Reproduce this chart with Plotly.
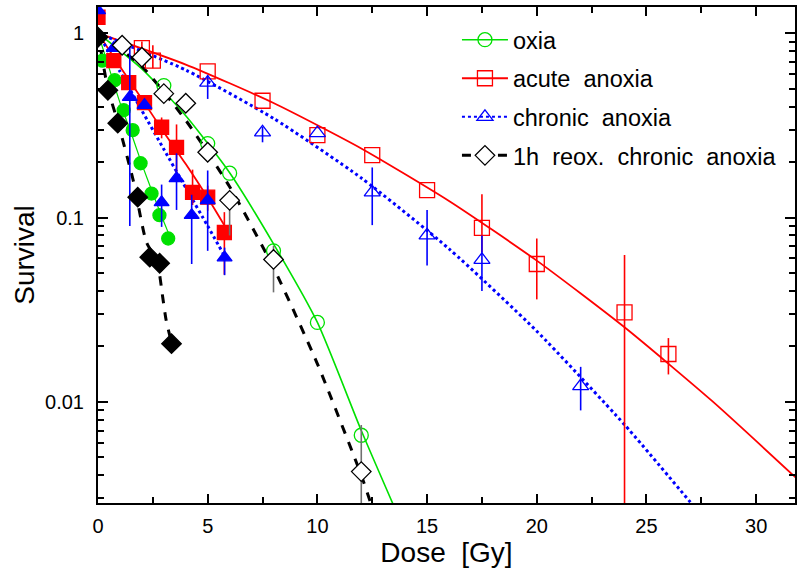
import plotly.graph_objects as go

# ---------------- data ----------------
# oxia (open circles) and its fit curve
oxia_dose = [3.0, 5.0, 6.0, 8.0, 10.0, 12.0]
oxia_surv = [0.52, 0.252, 0.174, 0.066, 0.027, 0.0066]
oxia_fit_dose = [0, 2, 4, 6, 8, 10, 12, 13.5]
oxia_fit_surv = [1.0, 0.64, 0.357, 0.175, 0.072, 0.027, 0.0070, 0.0027]

# acute anoxia (open squares) and its fit curve
acute_dose = [2.0, 2.5, 5.0, 7.5, 10.0, 12.5, 15.0, 17.5, 20.0, 24.0, 26.0]
acute_surv = [0.83, 0.71, 0.62, 0.43, 0.28, 0.218, 0.141, 0.088, 0.056, 0.0306, 0.0182]
acute_err_hi = [0.07, 0.15, 0, 0, 0, 0, 0, 0.046, 0.021, 0.032, 0.004]
acute_err_lo = [0.06, 0.065, 0, 0, 0, 0, 0, 0.023, 0.020, 0.0305, 0.0041]
acute_fit_dose = [0, 4, 8, 12, 16, 20, 24, 28, 32]
acute_fit_surv = [1.0, 0.676, 0.418, 0.237, 0.123, 0.0584, 0.0254, 0.0101, 0.0037]

# chronic anoxia (open triangles) and its fit curve
chronic_dose = [5.0, 7.5, 10.0, 12.5, 15.0, 17.5, 22.0]
chronic_surv = [0.54, 0.29, 0.287, 0.137, 0.080, 0.059, 0.0122]
chronic_err_hi = [0.05, 0.02, 0, 0.05, 0.03, 0.021, 0.0033]
chronic_err_lo = [0.10, 0.034, 0, 0.046, 0.025, 0.019, 0.0032]
chronic_fit_dose = [0, 4, 8, 12, 16, 20, 24, 27]
chronic_fit_surv = [1.0, 0.631, 0.345, 0.164, 0.0677, 0.0242, 0.00753, 0.00286]

# 1h reox. chronic anoxia (open diamonds) and its fit curve
reox_dose = [1.1, 2.0, 3.0, 4.0, 5.0, 6.0, 8.0, 12.0]
reox_surv = [0.86, 0.74, 0.47, 0.417, 0.226, 0.124, 0.0593, 0.00419]
reox_err_hi = [0, 0, 0, 0, 0, 0.006, 0.011, 0.0033]
reox_err_lo = [0, 0, 0, 0, 0, 0.044, 0.020, 0.0041]
reox_fit_dose = [0, 2, 4, 6, 8, 10, 12, 12.4]
reox_fit_surv = [1.0, 0.66, 0.337, 0.147, 0.0535, 0.0161, 0.0040, 0.0029]

# filled-symbol data sets (no legend entry)
oxia2_dose = [0.2, 0.76, 1.17, 1.58, 1.94, 2.44, 2.8, 3.2]
oxia2_surv = [0.71, 0.556, 0.382, 0.298, 0.197, 0.135, 0.103, 0.077]
oxia2_fit_dose = [0, 0.5, 1.0, 1.5, 2.0, 2.5, 3.0, 3.35]
oxia2_fit_surv = [1.0, 0.65, 0.42, 0.29, 0.195, 0.135, 0.095, 0.075]

acute2_dose = [0, 0.72, 1.4, 2.12, 2.9, 3.58, 4.31, 5.0, 5.76]
acute2_surv = [1.22, 0.71, 0.54, 0.42, 0.309, 0.24, 0.137, 0.129, 0.083]
acute2_err_hi = [0, 0, 0, 0, 0.04, 0.08, 0.045, 0.02, 0.024]
acute2_err_lo = [0, 0, 0, 0, 0.04, 0.08, 0.02, 0.02, 0.034]
acute2_fit_dose = [0, 1, 2, 3, 4, 5, 5.8]
acute2_fit_surv = [1.0, 0.66, 0.44, 0.29, 0.195, 0.128, 0.089]

chronic2_dose = [0, 0.72, 1.45, 2.12, 2.9, 3.58, 4.27, 5.0, 5.77]
chronic2_surv = [1.33, 0.83, 0.45, 0.407, 0.121, 0.163, 0.103, 0.124, 0.0607]
chronic2_err_hi = [0, 0, 0.43, 0, 0.03, 0.06, 0.03, 0.056, 0.008]
chronic2_err_lo = [0, 0, 0.36, 0, 0.032, 0.053, 0.047, 0.058, 0.012]
chronic2_fit_dose = [0, 1, 2, 3, 4, 5, 5.7]
chronic2_fit_surv = [1.0, 0.62, 0.38, 0.235, 0.145, 0.09, 0.064]

reox2_dose = [0, 0.45, 0.9, 1.81, 2.36, 2.81, 3.35]
reox2_surv = [0.95, 0.49, 0.325, 0.129, 0.061, 0.0565, 0.0207]
reox2_fit_dose = [0, 0.45, 0.9, 1.6, 2.2, 2.7, 2.95, 3.1, 3.35]
reox2_fit_surv = [1.0, 0.50, 0.33, 0.16, 0.074, 0.057, 0.037, 0.028, 0.021]

legend_names = ["oxia", "acute\u00a0\u00a0anoxia", "chronic\u00a0\u00a0anoxia",
                "1h\u00a0\u00a0reox.\u00a0\u00a0chronic\u00a0\u00a0anoxia"]

GREEN = "#00e000"
RED = "#ff0000"
BLUE = "#0000ff"
BLACK = "#000000"
GRAY = "#707070"
FONT = "Liberation Sans"

fig = go.Figure()


def line(x, y, color, width, dash="solid"):
    fig.add_trace(go.Scatter(x=x, y=y, mode="lines", showlegend=False,
                             line=dict(color=color, width=width, dash=dash, shape="spline", smoothing=0.6),
                             hoverinfo="skip"))


def pts(x, y, symbol, size, color, fill, ecolor=None, hi=None, lo=None, lw=1.3):
    err = None
    if hi is not None:
        err = dict(type="data", symmetric=False, array=hi, arrayminus=lo,
                   color=ecolor or color, thickness=1.6, width=0)
    fig.add_trace(go.Scatter(x=x, y=y, mode="markers", showlegend=False,
                             marker=dict(symbol=symbol, size=size, color=fill,
                                         line=dict(color=color, width=lw)),
                             error_y=err))


# fit lines
line(oxia_fit_dose, oxia_fit_surv, GREEN, 1.6)
line(acute_fit_dose, acute_fit_surv, RED, 1.8)
line(chronic_fit_dose, chronic_fit_surv, BLUE, 3, "dot")
line(reox_fit_dose, reox_fit_surv, BLACK, 3, "dash")
line(oxia2_fit_dose, oxia2_fit_surv, GREEN, 1.2)
line(acute2_fit_dose, acute2_fit_surv, RED, 1.8)
line(chronic2_fit_dose, chronic2_fit_surv, BLUE, 3, "dot")
line(reox2_fit_dose, reox2_fit_surv, BLACK, 3, "dash")

# filled data sets
pts(oxia2_dose, oxia2_surv, "circle", 13, GREEN, GREEN)
pts(acute2_dose, acute2_surv, "square", 14, RED, RED, hi=acute2_err_hi, lo=acute2_err_lo)
pts(chronic2_dose, chronic2_surv, "triangle-up", 13, BLUE, BLUE, hi=chronic2_err_hi, lo=chronic2_err_lo)
pts(reox2_dose, reox2_surv, "diamond", 15, BLACK, BLACK)

# open data sets
pts(oxia_dose, oxia_surv, "circle", 14, GREEN, "rgba(0,0,0,0)")
pts(acute_dose, acute_surv, "square", 15, RED, "rgba(0,0,0,0)", hi=acute_err_hi, lo=acute_err_lo)
pts(chronic_dose, chronic_surv, "triangle-up", 14, BLUE, "rgba(0,0,0,0)", hi=chronic_err_hi, lo=chronic_err_lo)
pts(reox_dose, reox_surv, "diamond", 15, BLACK, "white", ecolor=GRAY, hi=reox_err_hi, lo=reox_err_lo)

# legend entries
leg_styles = [
    (GREEN, "solid", 1.6, "circle", 14, "rgba(0,0,0,0)"),
    (RED, "solid", 1.8, "square", 15, "rgba(0,0,0,0)"),
    (BLUE, "dot", 2, "triangle-up", 14, "rgba(0,0,0,0)"),
    (BLACK, "dash", 3, "diamond", 15, "white"),
]
for i, (name, st) in enumerate(zip(legend_names, leg_styles)):
    c, d, w, sym, sz, fill = st
    fig.add_trace(go.Scatter(x=[None], y=[None], mode="lines+markers", name=name,
                             legendgroup=str(i),
                             line=dict(color=c, dash=d, width=w),
                             marker=dict(symbol=sym, size=sz, color=fill, line=dict(color=c, width=1.3))))

axis_common = dict(showline=True, linecolor="black", linewidth=2, mirror="allticks",
                   ticks="inside", tickcolor="black", tickwidth=2, showgrid=False, zeroline=False,
                   tickfont=dict(family=FONT, size=20, color="black"))

fig.update_xaxes(range=[0, 31.77], tick0=0, dtick=5, ticklen=9,
                 minor=dict(ticks="inside", dtick=2.5, ticklen=6, tickwidth=2, tickcolor="black"),
                 title=dict(text="Dose\u00a0\u00a0[Gy]", font=dict(family=FONT, size=28, color="black"), standoff=4),
                 ticklabelstandoff=4,
                 **axis_common)
fig.update_yaxes(type="log", range=[-2.548, 0.142], tickvals=[0.01, 0.1, 1], ticktext=["0.01", "0.1", "1"],
                 ticklen=10,
                 minor=dict(ticks="inside", ticklen=6, tickwidth=2, tickcolor="black",
                            tickvals=[0.003, 0.004, 0.005, 0.006, 0.007, 0.008, 0.009,
                                      0.02, 0.03, 0.04, 0.05, 0.06, 0.07, 0.08, 0.09,
                                      0.2, 0.3, 0.4, 0.5, 0.6, 0.7, 0.8, 0.9]),
                 title=dict(text="Survival", font=dict(family=FONT, size=28, color="black"), standoff=2),
                 ticklabelstandoff=8,
                 **axis_common)

fig.update_layout(
    width=798, height=574,
    margin=dict(l=98, r=1, t=7, b=71),
    paper_bgcolor="white", plot_bgcolor="white",
    legend=dict(x=0.515, y=0.978, xanchor="left", yanchor="top",
                bgcolor="rgba(255,255,255,0)", font=dict(family=FONT, size=23.5, color="black"),
                traceorder="grouped", tracegroupgap=5, itemwidth=46),
    font=dict(family=FONT),
)

fig.write_html("out.html")
